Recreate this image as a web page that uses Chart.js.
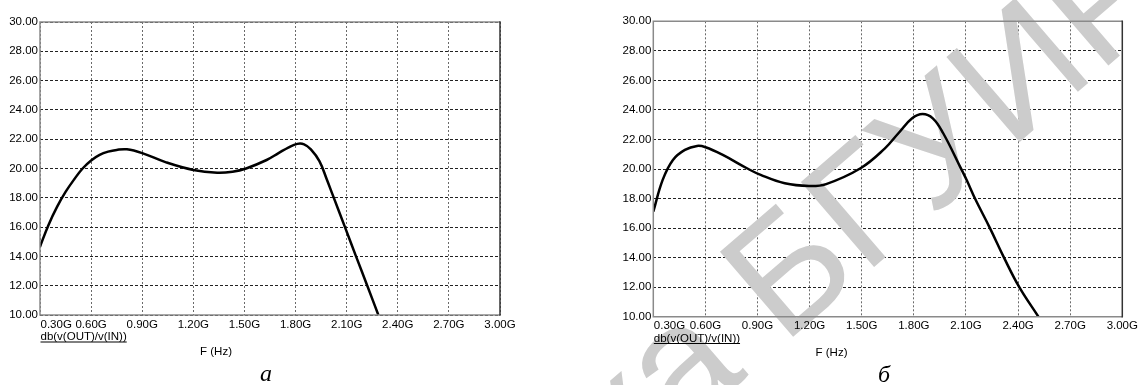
<!DOCTYPE html>
<html>
<head>
<meta charset="utf-8">
<script src="https://cdn.jsdelivr.net/npm/chart.js@4/dist/chart.umd.min.js"></script>
<style>
  html, body { margin: 0; padding: 0; background: #fff; }
  body { width: 1139px; height: 385px; position: relative; overflow: hidden; }
  canvas { position: absolute; top: 0; }
  #chartA { left: 0; }
  #chartB { left: 580px; }
</style>
</head>
<body>
<canvas id="chartA" width="570" height="385"></canvas>
<canvas id="chartB" width="559" height="385"></canvas>
<script>
// Axis ticks (frequency in GHz, gain in dB)
const freqTicks = [0.3, 0.6, 0.9, 1.2, 1.5, 1.8, 2.1, 2.4, 2.7, 3.0];
const freqTickLabels = ['0.30G', '0.60G', '0.90G', '1.20G', '1.50G', '1.80G', '2.10G', '2.40G', '2.70G', '3.00G'];
const gainTicks = [10, 12, 14, 16, 18, 20, 22, 24, 26, 28, 30];
const gainTickLabels = ['10.00', '12.00', '14.00', '16.00', '18.00', '20.00', '22.00', '24.00', '26.00', '28.00', '30.00'];

// Trace (а)
const freqA = [0.30, 0.35, 0.40, 0.45, 0.50, 0.55, 0.60, 0.65, 0.70, 0.75, 0.81, 0.90, 1.04, 1.20, 1.34, 1.43, 1.51, 1.63, 1.70, 1.76, 1.81, 1.85, 1.89, 1.94, 1.983, 2.018, 2.09, 2.155, 2.221, 2.286];
const gainA = [14.66, 16.15, 17.38, 18.4, 19.25, 20.0, 20.55, 20.93, 21.15, 21.27, 21.31, 21.05, 20.42, 19.9, 19.71, 19.78, 20.0, 20.58, 21.05, 21.45, 21.68, 21.65, 21.3, 20.5, 19.27, 18.2, 16.0, 14.0, 12.0, 10.0];

// Trace (б)
const freqB = [0.30, 0.354, 0.413, 0.482, 0.552, 0.601, 0.70, 0.839, 0.918, 1.057, 1.196, 1.295, 1.493, 1.632, 1.711, 1.79, 1.85, 1.909, 1.969, 2.068, 2.104, 2.152, 2.238, 2.319, 2.407, 2.517];
const gainB = [17.11, 19.26, 20.61, 21.29, 21.56, 21.47, 20.95, 20.05, 19.6, 19.03, 18.85, 18.98, 20.05, 21.38, 22.42, 23.43, 23.72, 23.43, 22.42, 20.11, 19.25, 18.0, 16.0, 14.0, 12.0, 10.0];

const traceName = 'db(v(OUT)/v(IN))';
const axisTitle = 'F (Hz)';
const captions = ['а', 'б'];
const watermarkHead = 'Библиотека';
const watermarkTail = 'БГУИР';

const FONT = '"Liberation Sans", Arial, sans-serif';

// Plot frame: grey top/left/bottom, dark right edge
const framePlugin = {
  id: 'frame',
  afterDatasetsDraw(chart) {
    const { ctx, chartArea: a } = chart;
    ctx.save();
    ctx.lineWidth = 1.5;
    ctx.strokeStyle = '#8a8a8a';
    ctx.beginPath();
    ctx.moveTo(a.right, a.top); ctx.lineTo(a.left, a.top);
    ctx.lineTo(a.left, a.bottom); ctx.lineTo(a.right, a.bottom);
    ctx.stroke();
    ctx.strokeStyle = '#333';
    ctx.beginPath();
    ctx.moveTo(a.right, a.top - 0.75); ctx.lineTo(a.right, a.bottom + 0.75);
    ctx.stroke();
    ctx.restore();
  }
};

// Frequency labels, trace name, axis title and panel caption
const labelsPlugin = {
  id: 'probeLabels',
  afterDraw(chart, args, o) {
    const { ctx, chartArea: a } = chart;
    const xs = chart.scales.x;
    ctx.save();
    ctx.fillStyle = '#000';
    ctx.font = '11.5px ' + FONT;
    ctx.textBaseline = 'alphabetic';
    freqTicks.forEach((v, i) => {
      const px = xs.getPixelForValue(v);
      if (i === 0) { ctx.textAlign = 'left'; ctx.fillText(freqTickLabels[i], px + 0.5, o.tickBase); }
      else { ctx.textAlign = 'center'; ctx.fillText(freqTickLabels[i], px, o.tickBase); }
    });
    ctx.textAlign = 'left';
    ctx.fillText(traceName, a.left + 0.5, o.nameBase);
    const w = ctx.measureText(traceName).width;
    ctx.strokeStyle = '#000';
    ctx.lineWidth = 1;
    ctx.beginPath();
    ctx.moveTo(a.left + 0.5, o.nameBase + 2);
    ctx.lineTo(a.left + 0.5 + w, o.nameBase + 2);
    ctx.stroke();
    ctx.textAlign = 'center';
    ctx.fillText(axisTitle, o.titleX, o.titleBase);
    ctx.font = 'italic 24px "Liberation Serif", "Times New Roman", serif';
    ctx.fillText(o.caption, o.captionX, o.captionBase);
    ctx.restore();
  }
};

// Grey diagonal library stamp, laid under the trace
const stampPlugin = {
  id: 'stamp',
  beforeDatasetsDraw(chart, args, o) {
    if (!o.enabled) return;
    const ctx = chart.ctx;
    ctx.save();
    ctx.translate(o.x, o.y);
    ctx.rotate(-o.angle * Math.PI / 180);
    ctx.font = o.size + 'px ' + FONT;
    ctx.fillStyle = '#cccccc';
    ctx.textBaseline = 'alphabetic';
    ctx.textAlign = 'left';
    ctx.fillText(watermarkTail, 0, 0);
    ctx.textAlign = 'right';
    ctx.fillText(watermarkHead, -o.gap, 0);
    ctx.restore();
  }
};

function makeChart(id, freq, gain, geom, labelOpts, stampOpts) {
  const pts = freq.map((f, i) => ({ x: f, y: gain[i] }));
  return new Chart(document.getElementById(id), {
    type: 'line',
    data: {
      datasets: [{
        data: pts,
        borderColor: '#000',
        borderWidth: 2.5,
        pointRadius: 0,
        fill: false,
        tension: 0.4
      }]
    },
    options: {
      responsive: false,
      animation: false,
      devicePixelRatio: 1,
      layout: { padding: geom.padding },
      plugins: {
        legend: { display: false },
        tooltip: { enabled: false },
        probeLabels: labelOpts,
        stamp: stampOpts
      },
      scales: {
        x: {
          type: 'linear',
          min: freqTicks[0],
          max: freqTicks[freqTicks.length - 1],
          afterBuildTicks: s => { s.ticks = freqTicks.map(v => ({ value: v })); },
          afterFit: s => { s.height = 0; },
          ticks: { display: false },
          grid: { color: '#6a6a6a', lineWidth: 1, drawTicks: false },
          border: { display: false, dash: [2, 2] }
        },
        y: {
          type: 'linear',
          min: gainTicks[0],
          max: gainTicks[gainTicks.length - 1],
          afterBuildTicks: s => { s.ticks = gainTicks.map(v => ({ value: v })); },
          afterFit: s => { s.width = geom.yWidth; },
          ticks: {
            color: '#000',
            padding: 2,
            font: { family: FONT, size: 11.5 },
            callback: (v) => gainTickLabels[gainTicks.indexOf(v)]
          },
          grid: { color: '#222', lineWidth: 1, drawTicks: false },
          border: { display: false, dash: [3, 2] }
        }
      }
    },
    plugins: [stampPlugin, framePlugin, labelsPlugin]
  });
}

makeChart('chartA', freqA, gainA,
  { padding: { left: 0, top: 22, right: 70, bottom: 70 }, yWidth: 40 },
  { tickBase: 327.5, nameBase: 340, titleX: 216, titleBase: 355, caption: captions[0], captionX: 266, captionBase: 381 },
  { enabled: false });

makeChart('chartB', freqB, gainB,
  { padding: { left: 0, top: 21.3, right: 16.7, bottom: 68.3 }, yWidth: 73.3 },
  { tickBase: 328.5, nameBase: 341.5, titleX: 251.5, titleBase: 355.5, caption: captions[1], captionX: 304, captionBase: 382 },
  { enabled: true, x: 203, y: 345.5, angle: 40.7, size: 163, gap: 45 });
</script>
</body>
</html>
